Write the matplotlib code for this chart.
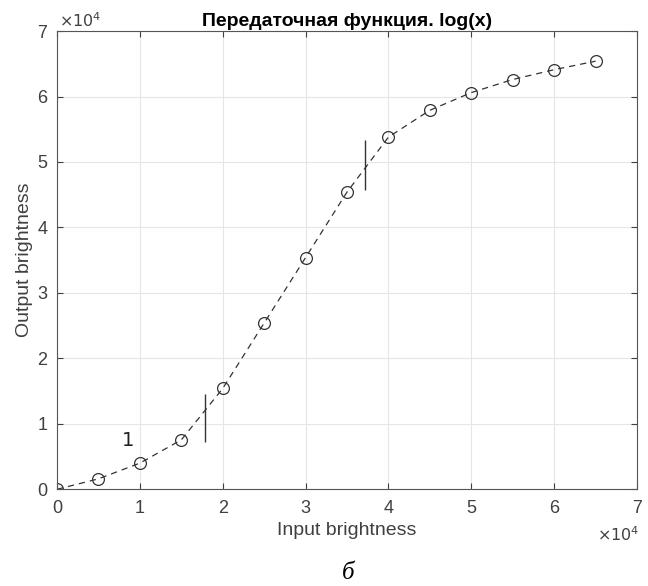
import matplotlib.pyplot as plt
import numpy as np
from matplotlib.ticker import FuncFormatter, MultipleLocator

# входные и выходные значения яркости
x_in = [0, 5000, 10000, 15000, 20000, 25000, 30000, 35000, 40000, 45000, 50000, 55000, 60000, 65000]
y_out = [0, 1600, 4000, 7550, 15400, 25400, 35400, 45400, 53800, 57900, 60600, 62600, 64100, 65400]

# вертикальные отметки (x, y низ, y верх)
mark_x = [17900, 37200]
mark_lo = [7200, 45700]
mark_hi = [14600, 53300]

plt.rcParams['font.family'] = ['Liberation Sans', 'DejaVu Sans']
grey = '#404040'

fig = plt.figure(figsize=(6.48, 5.86), dpi=100)
ax = fig.add_axes([0.088, 0.165, 0.895, 0.782])

ax.plot(x_in, y_out, linestyle=(0, (5, 4)), color='#333333', linewidth=0.9,
        marker='o', markersize=8.5, markerfacecolor='none', markeredgewidth=0.9)
ax.vlines(mark_x, mark_lo, mark_hi, color='#333333', linewidth=1.0)
ax.text(8600, 7500, '1', fontsize=14, color='#222222', ha='center', va='center',
        family='DejaVu Sans')

ax.set_xlim(0, 70000)
ax.set_ylim(0, 70000)
ax.xaxis.set_major_locator(MultipleLocator(10000))
ax.yaxis.set_major_locator(MultipleLocator(10000))
fmt = FuncFormatter(lambda v, p: '%d' % round(v / 10000))
ax.xaxis.set_major_formatter(fmt)
ax.yaxis.set_major_formatter(fmt)
ax.grid(True, color='#e6e6e6', linewidth=0.8)
ax.set_axisbelow(True)
ax.tick_params(direction='in', top=True, right=True, length=4, color=grey,
               labelcolor=grey, labelsize=13, width=0.8)
ax.tick_params(axis='x', pad=8)
ax.tick_params(axis='y', pad=7)
for s in ax.spines.values():
    s.set_color('#555555')
    s.set_linewidth(0.8)

ax.set_title('Передаточная функция. log(x)', fontsize=14, fontweight='bold', pad=4)
ax.set_xlabel('Input brightness', fontsize=14, color=grey, labelpad=3)
ax.set_ylabel('Output brightness', fontsize=14, color=grey, labelpad=3)

ax.text(0.004, 1.003, r'$\times10^4$', transform=ax.transAxes, fontsize=11.5,
        color=grey, ha='left', va='bottom', family='DejaVu Sans')
ax.text(1.005, -0.1, r'$\times10^4$', transform=ax.transAxes, fontsize=11.5,
        color=grey, ha='right', va='center', family='DejaVu Sans')

fig.text(0.537, 0.004, 'б', fontsize=18, style='italic', family='Liberation Serif',
         ha='center', va='bottom')

fig.savefig('out.png', dpi=100)
